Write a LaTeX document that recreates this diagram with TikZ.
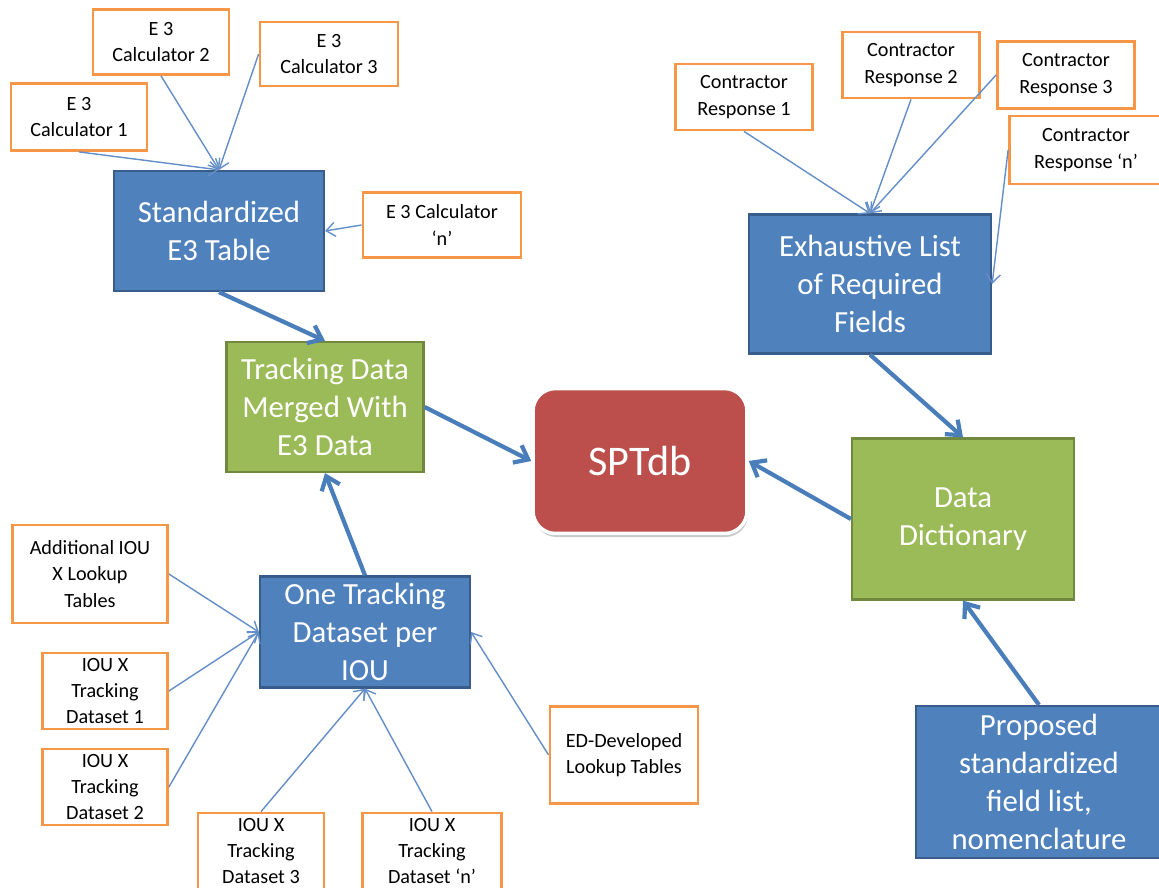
\documentclass[tikz,border=0pt]{standalone}
\usepackage{fontspec}
\setmainfont{Carlito}
\usepackage{tikz}
\usetikzlibrary{arrows.meta,shadows}
\definecolor{boxblue}{RGB}{79,129,189}
\definecolor{edgeblue}{RGB}{56,93,138}
\definecolor{boxgreen}{RGB}{155,187,89}
\definecolor{edgegreen}{RGB}{113,137,63}
\definecolor{boxred}{RGB}{188,79,76}
\definecolor{srcorange}{RGB}{247,150,70}
\definecolor{linkblue}{RGB}{100,142,200}
\definecolor{flowblue}{RGB}{74,126,187}

\begin{document}
\begin{tikzpicture}[x=0.02cm,y=-0.02cm,
src/.style={draw=srcorange,line width=1.6pt,fill=white,align=center,inner sep=1pt,font=\fontsize{11.5}{15}\selectfont},
main/.style={draw=edgeblue,line width=1.3pt,fill=boxblue,text=white,align=center,inner sep=1pt,font=\fontsize{17.5}{21.5}\selectfont},
merged/.style={main,draw=edgegreen,fill=boxgreen},
hub/.style={main,draw=white,line width=2pt,fill=boxred,rounded corners=0.45cm,font=\fontsize{24}{28}\selectfont,
  drop shadow={shadow xshift=0.6pt,shadow yshift=-2pt,fill=black!35,opacity=0.6}},
link/.style={linkblue,line width=0.8pt,-{Straight Barb[length=5pt,width=8pt]}},
flow/.style={flowblue,line width=2.4pt,-{Straight Barb[length=7pt,width=11pt]}}]
\useasboundingbox[fill=white] (0,0) rectangle (1159,888);
% E3 calculators
\node[src,minimum width=2.72cm,minimum height=1.3cm] (c2) at (161,42) {E 3\\Calculator 2};
\node[src,minimum width=2.76cm,minimum height=1.28cm] (c3) at (329,54) {E 3\\Calculator 3};
\node[src,minimum width=2.72cm,minimum height=1.34cm] (c1) at (79,117) {E 3\\Calculator 1};
\node[src,minimum width=3.16cm,minimum height=1.3cm] (cn) at (442,225) {E 3 Calculator\\‘n’};
\node[main,minimum width=4.2cm,minimum height=2.4cm] (std) at (219,231) {Standardized\\E3 Table};
\draw[link] (c1.south) -- (std.north);
\draw[link] (c2.south) -- (std.north);
\draw[link] (c3.west) -- (std.north);
\draw[link] (cn.west) -- (std.east);
% merged table and database
\node[merged,minimum width=3.94cm,minimum height=2.6cm] (mrg) at (325,407) {Tracking Data\\Merged With\\E3 Data};
\node[hub,minimum width=4.28cm,minimum height=2.9cm] (db) at (640,461) {SPTdb};
% contractor responses
\node[src,minimum width=2.74cm,minimum height=1.32cm] (r1) at (744,97) {Contractor\\Response 1};
\node[src,minimum width=2.74cm,minimum height=1.32cm] (r2) at (911,65) {Contractor\\Response 2};
\node[src,minimum width=2.74cm,minimum height=1.34cm] (r3) at (1066,75) {Contractor\\Response 3};
\node[src,minimum width=3.06cm,minimum height=1.36cm] (rn) at (1086,150) {Contractor\\Response ‘n’};
\node[main,minimum width=4.84cm,minimum height=2.78cm] (exh) at (870,284) {Exhaustive List\\of Required\\Fields};
\draw[link] (r1.south) -- (exh.north);
\draw[link] (r2.south) -- (exh.north);
\draw[link] (r3.west) -- (exh.north);
\draw[link] (rn.west) -- (exh.east);
% dictionary
\node[merged,minimum width=4.44cm,minimum height=3.22cm] (dict) at (963,519) {Data\\Dictionary};
\node[main,minimum width=4.92cm,minimum height=3.04cm] (prop) at (1039,782) {Proposed\\standardized\\field list,\\nomenclature};
% IOU tracking datasets
\node[main,minimum width=4.2cm,minimum height=2.22cm] (one) at (365,632) {One Tracking\\Dataset per\\IOU};
\node[src,minimum width=3.1cm,minimum height=1.96cm] (ad) at (90,574) {Additional IOU\\X Lookup\\Tables};
\node[src,minimum width=2.5cm,minimum height=1.52cm] (t1) at (105,691) {IOU X\\Tracking\\Dataset 1};
\node[src,minimum width=2.5cm,minimum height=1.52cm] (t2) at (105,787) {IOU X\\Tracking\\Dataset 2};
\node[src,minimum width=2.52cm,minimum height=1.52cm] (t3) at (261,851) {IOU X\\Tracking\\Dataset 3};
\node[src,minimum width=2.78cm,minimum height=1.52cm] (tn) at (432,851) {IOU X\\Tracking\\Dataset ‘n’};
\node[src,minimum width=2.96cm,minimum height=1.94cm] (ed) at (624,755) {ED-Developed\\Lookup Tables};
\draw[link] (ad.east) -- (one.west);
\draw[link] (t1.east) -- (one.west);
\draw[link] (t2.east) -- (one.west);
\draw[link] (t3.north) -- (one.south);
\draw[link] (tn.north) -- (one.south);
\draw[link] (ed.west) -- (one.east);
% main flow
\draw[flow] (std.south) -- (mrg.north);
\draw[flow] (mrg.east) -- (db.west);
\draw[flow] (one.north) -- (mrg.south);
\draw[flow] (exh.south) -- (dict.north);
\draw[flow] (dict.west) -- (db.east);
\draw[flow] (prop.north) -- (dict.south);
\end{tikzpicture}
\end{document}
